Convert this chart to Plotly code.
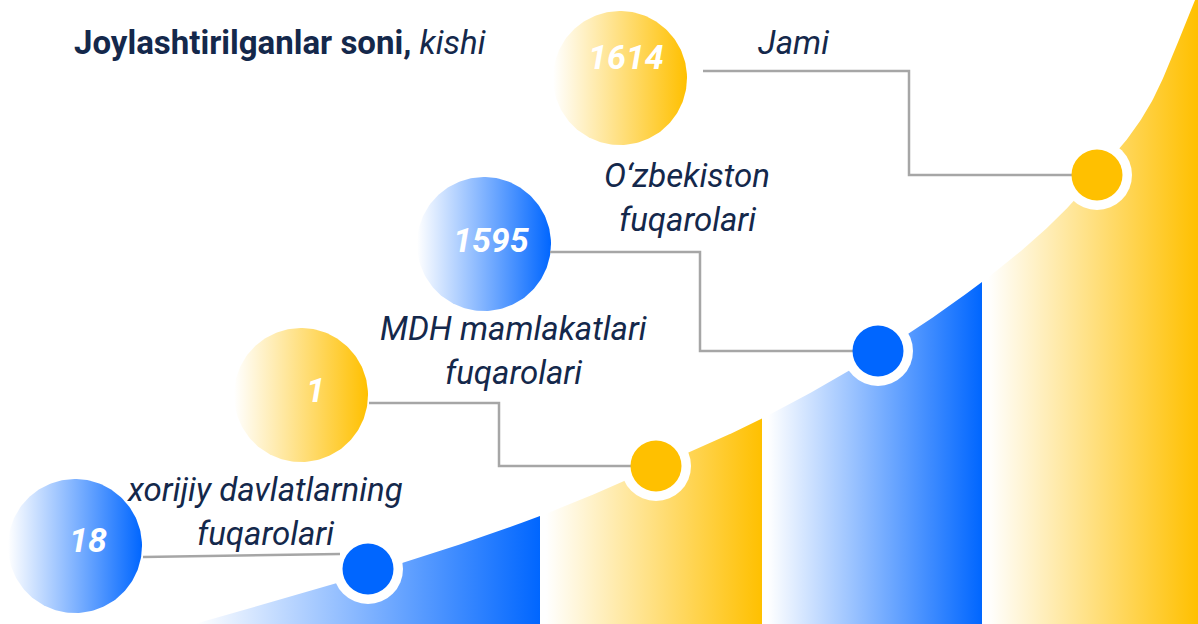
import numpy as np
import plotly.graph_objects as go

# ---------------- data ----------------
categories = ["xorijiy davlatlarning fuqarolari", "MDH mamlakatlari fuqarolari",
              "O‘zbekiston fuqarolari", "Jami"]
label_lines = [["xorijiy davlatlarning", "fuqarolari"],
               ["MDH mamlakatlari", "fuqarolari"],
               ["O‘zbekiston", "fuqarolari"],
               ["Jami"]]
values = [18, 1, 1595, 1614]
title_main = "Joylashtirilganlar soni,"
title_unit = "kishi"

# ---------------- layout / style ----------------
W, H = 1198, 624
BLUE, YELLOW, NAVY, GREY = "#0066ff", "#ffc000", "#14284b", "#a6a6a6"
item_colors = [BLUE, YELLOW, BLUE, YELLOW]
FONT = "Roboto"

bubble_cx = [75, 301, 484, 620]
bubble_cy = [546, 395, 244, 78]
bubble_r = 67
num_dx = [13, 14, 7, 6]
num_dy = [-6, -5, -4, -21]
label_cx = [265, 513, 687, 793]
label_y0 = [489, 328, 175, 42]
line_gap = 44
dot_x = [368, 656, 878, 1097]
dot_lift = [5, 1, 2, 0]
leader_start = [(143, 557), (369, 403), (550, 252), (703, 71)]
leader_elbow_x = [None, 499, 700, 909]
band_edges = [(195, 540), (546, 762), (768, 982), (988, 1198)]
band_colors = [BLUE, YELLOW, BLUE, YELLOW]
knot_x = [195, 368, 540, 656, 761, 878, 982, 1050, 1097, 1147, 1195, 1215]
knot_y = [624, 574, 516, 467, 419, 353, 282, 225, 175, 110, 0, -50]


def pchip(xk, yk, xs):
    xk = np.asarray(xk, float); yk = np.asarray(yk, float); xs = np.asarray(xs, float)
    h = np.diff(xk); d = np.diff(yk) / h
    m = np.zeros_like(yk)
    for i in range(1, len(xk) - 1):
        if d[i - 1] * d[i] <= 0:
            m[i] = 0
        else:
            w1 = 2 * h[i] + h[i - 1]; w2 = h[i] + 2 * h[i - 1]
            m[i] = (w1 + w2) / (w1 / d[i - 1] + w2 / d[i])
    m[0] = d[0]; m[-1] = d[-1]
    idx = np.clip(np.searchsorted(xk, xs) - 1, 0, len(h) - 1)
    t = (xs - xk[idx]) / h[idx]
    h00 = 2 * t**3 - 3 * t**2 + 1
    h10 = t**3 - 2 * t**2 + t
    h01 = -2 * t**3 + 3 * t**2
    h11 = t**3 - t**2
    return h00 * yk[idx] + h10 * h[idx] * m[idx] + h01 * yk[idx + 1] + h11 * h[idx] * m[idx + 1]


def grad(color):
    return dict(type="horizontal", colorscale=[[0, "#ffffff"], [1, color]])


fig = go.Figure()

# bands under the curve
for (x0, x1), col in zip(band_edges, band_colors):
    xs = np.linspace(x0, x1, 160)
    ys = pchip(knot_x, knot_y, xs)
    px = np.concatenate([[x0], xs, [x1, x0]])
    py = np.concatenate([[H + 2], ys, [H + 2, H + 2]])
    fig.add_trace(go.Scatter(x=px, y=py, mode="lines", line=dict(width=0),
                             fill="toself", fillgradient=grad(col), hoverinfo="skip"))

# big bubbles
t = np.linspace(0, 2 * np.pi, 200)
for cx, cy, col in zip(bubble_cx, bubble_cy, item_colors):
    fig.add_trace(go.Scatter(x=cx + bubble_r * np.cos(t), y=cy + bubble_r * np.sin(t),
                             mode="lines", line=dict(width=0), fill="toself",
                             fillgradient=grad(col), hoverinfo="skip"))

dot_y = [float(pchip(knot_x, knot_y, [x])[0]) - lift for x, lift in zip(dot_x, dot_lift)]

# white rings behind dots
fig.add_trace(go.Scatter(x=dot_x, y=dot_y, mode="markers",
                         marker=dict(size=70, color="#ffffff", line=dict(width=0)),
                         hoverinfo="skip"))

# leader lines
for (sx, sy), ex, dx, dy in zip(leader_start, leader_elbow_x, dot_x, dot_y):
    if ex is None:
        lx, ly = [sx, dx - 28], [sy, sy - 3]
    else:
        lx, ly = [sx, ex, ex, dx], [sy, sy, dy, dy]
    fig.add_trace(go.Scatter(x=lx, y=ly, mode="lines",
                             line=dict(color=GREY, width=2.5), hoverinfo="skip"))

# coloured dots
fig.add_trace(go.Scatter(x=dot_x, y=dot_y, mode="markers",
                         marker=dict(size=51, color=item_colors, line=dict(width=0)),
                         hoverinfo="skip"))

ann = []
for v, cx, cy, ddx, ddy in zip(values, bubble_cx, bubble_cy, num_dx, num_dy):
    ann.append(dict(x=cx + ddx, y=cy + ddy, text=f"<b><i>{v}</i></b>", showarrow=False,
                    xref="x", yref="y", xanchor="center", yanchor="middle",
                    font=dict(family=FONT, size=34, color="#ffffff")))
for lines, lx, ly in zip(label_lines, label_cx, label_y0):
    for k, s in enumerate(lines):
        ann.append(dict(x=lx, y=ly + k * line_gap, text=f"<i>{s}</i>", showarrow=False,
                        xref="x", yref="y", xanchor="center", yanchor="middle",
                        font=dict(family=FONT, size=33, color=NAVY)))
ann.append(dict(x=72, y=42, text=f"<b>{title_main}</b> <i>{title_unit}</i>", showarrow=False,
                xref="x", yref="y", xanchor="left", yanchor="middle",
                font=dict(family=FONT, size=33, color=NAVY)))

fig.update_layout(
    width=W, height=H, margin=dict(l=0, r=0, t=0, b=0),
    paper_bgcolor="#ffffff", plot_bgcolor="#ffffff", showlegend=False,
    xaxis=dict(range=[0, W], visible=False, fixedrange=True),
    yaxis=dict(range=[H, 0], visible=False, fixedrange=True),
    annotations=ann,
)
fig.write_html("out.html", config={"displayModeBar": False},
               post_script="document.body.style.margin='0';document.body.style.overflow='hidden';")
